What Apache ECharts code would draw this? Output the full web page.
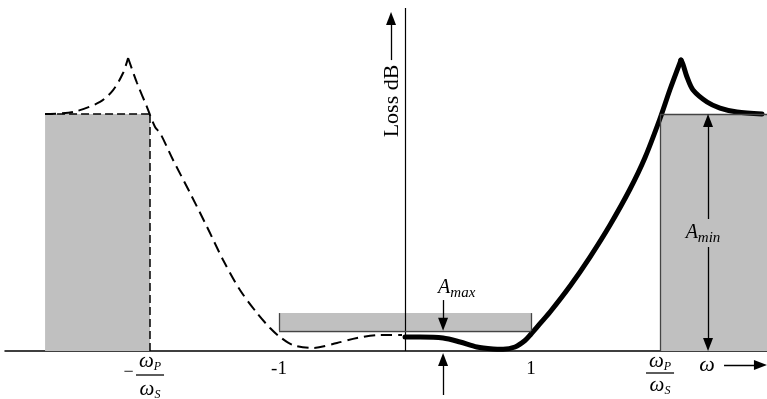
<!DOCTYPE html>
<html>
<head>
<meta charset="utf-8">
<script src="https://cdn.jsdelivr.net/npm/echarts@6/dist/echarts.min.js"></script>
<style>
  html, body { margin: 0; padding: 0; background: #fff; }
  #chart { width: 767px; height: 399px; }
</style>
</head>
<body>
<div id="chart"></div>
<script>
// Frequency normalised to the passband edge (ω / ωP); attenuation in dB.
const passEdge = 1;
const stopEdge = 2.024;
const aMax = 3.4;          // maximum passband loss
const aMaxBandTop = 6.4;   // upper edge of the shaded passband tolerance strip
const aMin = 40;           // minimum stopband loss
const leftBandStart = -2.857;

// Loss for positive frequencies (solid), split at the stopband peak
const lossPosRise = [
  [0, 2.36], [0.119, 2.36], [0.302, 2.19], [0.437, 1.52], [0.571, 0.68],
  [0.698, 0.34], [0.778, 0.29], [0.873, 0.68], [0.952, 1.77], [1.0, 2.87],
  [1.071, 4.62], [1.151, 6.58], [1.31, 10.97], [1.468, 15.86], [1.627, 21.27],
  [1.786, 27.34], [1.905, 32.66], [2.024, 39.24], [2.103, 44.14], [2.19, 49.11]
];
const lossPosFall = [
  [2.19, 49.11], [2.206, 48.4], [2.238, 46.24], [2.286, 44.05], [2.397, 42.03],
  [2.5, 41.01], [2.635, 40.34], [2.833, 40.0]
];
// Loss for negative frequencies (dashed)
const lossNegRise = [
  [-2.857, 40.0], [-2.635, 40.34], [-2.421, 42.03], [-2.317, 44.05],
  [-2.238, 46.92], [-2.198, 49.45]
];
const lossNegFall = [
  [-2.198, 49.45], [-2.127, 45.23], [-2.048, 41.18], [-1.984, 37.81], [-1.944, 36.79],
  [-1.841, 32.24], [-1.706, 26.67], [-1.571, 20.93], [-1.444, 15.36], [-1.31, 10.3],
  [-1.175, 6.41], [-1.071, 3.88], [-0.992, 2.36], [-0.889, 1.01], [-0.73, 0.51],
  [-0.54, 1.35], [-0.381, 2.19], [-0.198, 2.7], [-0.024, 2.7]
];

// Frequency axis ticks
const tickValues = [-stopEdge, -passEdge, passEdge, stopEdge];
const tickLabels = ['−ωP/ωS', '-1', '1', 'ωP/ωS'];

const SERIF = '"Liberation Serif", "Times New Roman", serif';
const X_MIN = -3.175, X_MAX = 2.873;
const Y_MIN = -8.1, Y_MAX = 59.24;
const AXIS_LIFT = 48; // frequency axis sits at 0 dB, above the bottom of the grid

function omegaToken(s) {
  // 'ωP' -> ω with subscript P
  return '{w|' + s.charAt(0) + '}{sub|' + s.slice(1) + '}';
}
function tickFormatter(value) {
  let idx = tickValues.findIndex(v => Math.abs(v - value) < 1e-6);
  if (idx < 0) return '';
  const text = tickLabels[idx];
  if (text.indexOf('/') < 0) return '{n|' + text + '}';
  const neg = text.charAt(0) === '−';
  const body = neg ? text.slice(1) : text;
  const parts = body.split('/');
  const pad = neg ? '{sp|}' : '';
  return pad + omegaToken(parts[0]) + pad + '\n' +
    (neg ? '{m|−}' : '') + '{hr|}' + pad + '\n' +
    pad + omegaToken(parts[1]) + pad;
}

function curve(data, dashed) {
  return {
    type: 'line',
    data: data,
    showSymbol: false,
    smooth: 0.3,
    silent: true,
    z: 3,
    lineStyle: dashed
      ? { color: '#000', width: 2, type: [11, 6] }
      : { color: '#000', width: 5, cap: 'round', join: 'round' }
  };
}

const tri = 'triangle';
const arrowSize = [10, 13];

function seg(a, b, style, symbols) {
  const s = symbols || ['none', 'none'];
  return [
    { coord: a, symbol: s[0], symbolSize: arrowSize, lineStyle: style },
    { coord: b, symbol: s[1], symbolSize: arrowSize }
  ];
}

const boxEdge = { color: '#444', width: 1.3, type: 'solid' };
const dashEdge = { color: '#000', width: 1.5, type: [8, 4] };
const axisStyle = { color: '#000', width: 1.2, type: 'solid' };
const arrowStyle = { color: '#000', width: 1.3, type: 'solid' };

const subStyle = { fontFamily: SERIF, fontStyle: 'italic', fontSize: 15, lineHeight: 18, verticalAlign: 'bottom', color: '#000' };
const capStyle = { fontFamily: SERIF, fontStyle: 'italic', fontSize: 20, lineHeight: 24, color: '#000' };

const option = {
  animation: false,
  backgroundColor: '#fff',
  grid: { left: 5, right: 0, top: 0, bottom: 0, containLabel: false, outerBoundsMode: 'none' },
  xAxis: {
    type: 'value',
    min: X_MIN,
    max: X_MAX,
    offset: -AXIS_LIFT,
    splitLine: { show: false },
    axisTick: { show: false },
    axisLine: { onZero: false, lineStyle: { color: '#000', width: 1.5 } },
    axisLabel: {
      customValues: tickValues,
      margin: 2,
      color: '#000',
      fontFamily: SERIF,
      formatter: tickFormatter,
      rich: {
        n: { fontFamily: SERIF, fontSize: 19, lineHeight: 19, padding: [13, 0, 0, 0], color: '#000' },
        w: { fontFamily: SERIF, fontStyle: 'italic', fontSize: 21, lineHeight: 16, color: '#000' },
        sub: { fontFamily: SERIF, fontStyle: 'italic', fontSize: 12, lineHeight: 16, padding: [11, 0, 0, 0], verticalAlign: 'middle', color: '#000' },
        hr: { width: 28, height: 0, lineHeight: 8, borderWidth: 0.8, borderColor: '#000' },
        m: { fontFamily: SERIF, fontSize: 18, width: 15, lineHeight: 8, padding: [0, 0, 6, 0], verticalAlign: 'middle', color: '#000' },
        sp: { width: 15 }
      }
    }
  },
  yAxis: {
    type: 'value',
    min: Y_MIN,
    max: Y_MAX,
    show: true,
    splitLine: { show: false },
    axisTick: { show: false },
    axisLabel: { show: false },
    axisLine: { show: false }
  },
  series: [
    {
      // tolerance regions, box edges and the loss axis
      type: 'line',
      data: [],
      silent: true,
      markArea: {
        silent: true,
        itemStyle: { color: '#c0c0c0', borderWidth: 0 },
        data: [
          [{ coord: [leftBandStart, 0] }, { coord: [-stopEdge, aMin] }],
          [{ coord: [-passEdge, aMax] }, { coord: [passEdge, aMaxBandTop] }],
          [{ coord: [stopEdge, 0] }, { coord: [X_MAX, aMin] }]
        ]
      },
      markLine: {
        silent: true,
        symbol: ['none', 'none'],
        label: { show: false },
        emphasis: { disabled: true },
        data: [
          seg([0, 0], [0, 57.9], axisStyle),
          seg([-passEdge, aMax], [-passEdge, aMaxBandTop], boxEdge),
          seg([passEdge, aMax], [passEdge, aMaxBandTop], boxEdge),
          seg([-passEdge, aMax], [passEdge, aMax], boxEdge),
          seg([stopEdge, 0], [stopEdge, aMin], boxEdge),
          seg([stopEdge, aMin], [X_MAX, aMin], boxEdge),
          seg([-stopEdge, 0], [-stopEdge, aMin], dashEdge),
          seg([leftBandStart, aMin], [-stopEdge, aMin], dashEdge)
        ]
      }
    },
    curve(lossNegRise, true),
    curve(lossNegFall, true),
    curve(lossPosRise, false),
    curve(lossPosFall, false),
    {
      // annotation arrows and labels
      type: 'line',
      data: [],
      silent: true,
      markLine: {
        silent: true,
        z: 6,
        symbol: ['none', 'none'],
        label: { show: false },
        emphasis: { disabled: true },
        data: [
          seg([0.302, 8.6], [0.302, aMax + 1.1], arrowStyle, ['none', tri]),
          seg([0.302, -7.43], [0.302, -1.45], arrowStyle, ['none', tri]),
          seg([2.405, 1.1], [2.405, aMin - 1.1], arrowStyle, [tri, tri]),
          seg([2.532, -2.36], [X_MAX - 0.052, -2.36], arrowStyle, ['none', tri]),
          seg([-0.111, 49.1], [-0.111, 56.1], arrowStyle, ['none', tri])
        ]
      },
      markPoint: {
        silent: true,
        z: 10,
        symbol: 'circle',
        symbolSize: 1,
        itemStyle: { color: 'rgba(0,0,0,0)' },
        data: [
          {
            coord: [0.41, 10.6],
            label: { show: true, position: 'inside', formatter: '{a|A}{s|max}', rich: { a: capStyle, s: subStyle } }
          },
          {
            coord: [2.365, 19.9],
            label: {
              show: true, position: 'inside', formatter: '{a|A}{s|min}',
              backgroundColor: '#c0c0c0', padding: [2, 1, 2, 1],
              rich: { a: capStyle, s: subStyle }
            }
          },
          {
            coord: [2.397, -2.36],
            label: { show: true, position: 'inside', formatter: 'ω', fontFamily: SERIF, fontStyle: 'italic', fontSize: 22, color: '#000' }
          },
          {
            coord: [-0.103, 42.2],
            label: { show: true, position: 'inside', rotate: 90, formatter: 'Loss dB', fontFamily: SERIF, fontSize: 22, color: '#000' }
          }
        ]
      }
    }
  ]
};

const chart = echarts.init(document.getElementById('chart'));
chart.setOption(option);
</script>
</body>
</html>
